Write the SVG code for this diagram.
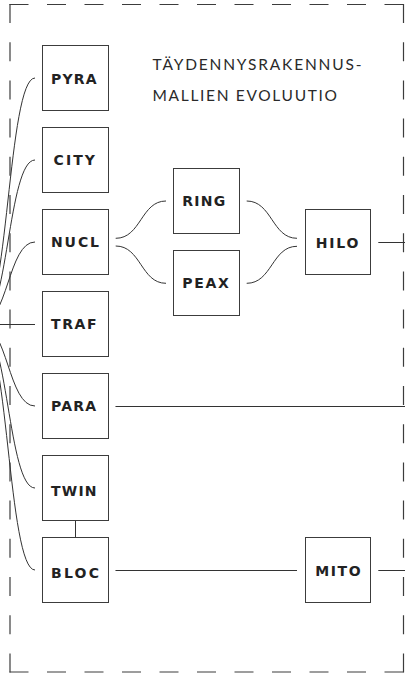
<svg xmlns="http://www.w3.org/2000/svg" width="405" height="677" viewBox="0 0 405 677">
  <style>
    .frame { stroke: #3c3c3c; stroke-width: 1.2; fill: none; }
    .box { fill: #ffffff; stroke: #3c3c3c; stroke-width: 1; }
    .lbl { font-family: "DejaVu Sans", Lato, "Liberation Sans", sans-serif; font-weight: 700; font-size: 14px; fill: #222222; }
    .title { font-family: Lato, "Open Sans", "Liberation Sans", sans-serif; font-weight: 400; font-size: 15.5px; fill: #2a2a2a; }
    .wire { stroke: #333333; stroke-width: 1; fill: none; }
  </style>
  <rect width="405" height="677" fill="#ffffff"/>

  <!-- dashed frame, each side starts and ends on a dash -->
  <g id="frame" class="frame">
    <line x1="9.5" y1="4.5" x2="403.5" y2="4.5" stroke-dasharray="19 18.5"/>
    <line x1="9.5" y1="672" x2="403.5" y2="672" stroke-dasharray="19 18.5"/>
    <line x1="10" y1="4" x2="10" y2="672.5" stroke-dasharray="19 19.2"/>
    <line x1="403.5" y1="4" x2="403.5" y2="672.5" stroke-dasharray="19 19.2"/>
  </g>

  <!-- title -->
  <g id="title">
    <text class="title" x="152.5" y="69.5" textLength="209" lengthAdjust="spacing">TÄYDENNYSRAKENNUS-</text>
    <text class="title" x="152.5" y="100.8" textLength="184.5" lengthAdjust="spacing">MALLIEN EVOLUUTIO</text>
  </g>

  <!-- connectors -->
  <g id="connectors" class="wire">
    <!-- fan from the left -->
    <path d="M-20 324 C8 324 8 78 35 78"/>
    <path d="M-20 324 C8 324 8 160 35 160"/>
    <path d="M-20 324 C8 324 8 242 35 242"/>
    <path d="M0 324.5 H35"/>
    <path d="M-20 324 C8 324 8 406 35 406"/>
    <path d="M-20 324 C8 324 8 488 35 488"/>
    <path d="M-20 324 C8 324 8 570 35 570"/>
    <!-- NUCL split and HILO merge -->
    <path d="M115.7 238.3 C141 238.3 141 201 166 201"/>
    <path d="M115.7 246 C141 246 141 283.3 166 283.3"/>
    <path d="M246.7 201 C272 201 272 238.3 297 238.3"/>
    <path d="M246.7 283.3 C272 283.3 272 246.3 297 246.3"/>
    <path d="M378.3 242.5 H405"/>
    <!-- PARA -->
    <path d="M115.7 406.5 H166 M115.7 406.5 H405"/>
    <!-- TWIN to BLOC -->
    <path d="M75.5 521 V537.5"/>
    <!-- BLOC to MITO and onward -->
    <path d="M115.7 570.5 H166 M115.7 570.5 H297"/>
    <path d="M378.3 570.5 H405"/>
  </g>

  <g id="pyra"><rect class="box" x="42.5" y="45.5" width="66" height="65"/><text class="lbl" x="51" y="84" textLength="45.5" lengthAdjust="spacing">PYRA</text></g>
  <g id="city"><rect class="box" x="42.5" y="127.5" width="66" height="65"/><text class="lbl" x="53.5" y="165" textLength="41.5" lengthAdjust="spacing">CITY</text></g>
  <g id="nucl"><rect class="box" x="42.5" y="209.5" width="66" height="65"/><text class="lbl" x="51" y="246.5" textLength="48" lengthAdjust="spacing">NUCL</text></g>
  <g id="traf"><rect class="box" x="42.5" y="291.5" width="66" height="65"/><text class="lbl" x="51" y="328.5" textLength="45.5" lengthAdjust="spacing">TRAF</text></g>
  <g id="para"><rect class="box" x="42.5" y="373.5" width="66" height="65"/><text class="lbl" x="51" y="410.8" textLength="45" lengthAdjust="spacing">PARA</text></g>
  <g id="twin"><rect class="box" x="42.5" y="455.5" width="66" height="65"/><text class="lbl" x="51" y="496" textLength="45.5" lengthAdjust="spacing">TWIN</text></g>
  <g id="bloc"><rect class="box" x="42.5" y="537.5" width="66" height="65"/><text class="lbl" x="51" y="578.3" textLength="48" lengthAdjust="spacing">BLOC</text></g>
  <g id="ring"><rect class="box" x="173.5" y="168.5" width="66" height="65"/><text class="lbl" x="182.2" y="205.5" textLength="43" lengthAdjust="spacing">RING</text></g>
  <g id="peax"><rect class="box" x="173.5" y="250.5" width="66" height="65"/><text class="lbl" x="182.2" y="288.3" textLength="46.5" lengthAdjust="spacing">PEAX</text></g>
  <g id="hilo"><rect class="box" x="305.5" y="209.5" width="65" height="65"/><text class="lbl" x="315.8" y="248" textLength="42.5" lengthAdjust="spacing">HILO</text></g>
  <g id="mito"><rect class="box" x="305.5" y="537.5" width="65" height="65"/><text class="lbl" x="315.2" y="576" textLength="45.5" lengthAdjust="spacing">MITO</text></g>
</svg>
